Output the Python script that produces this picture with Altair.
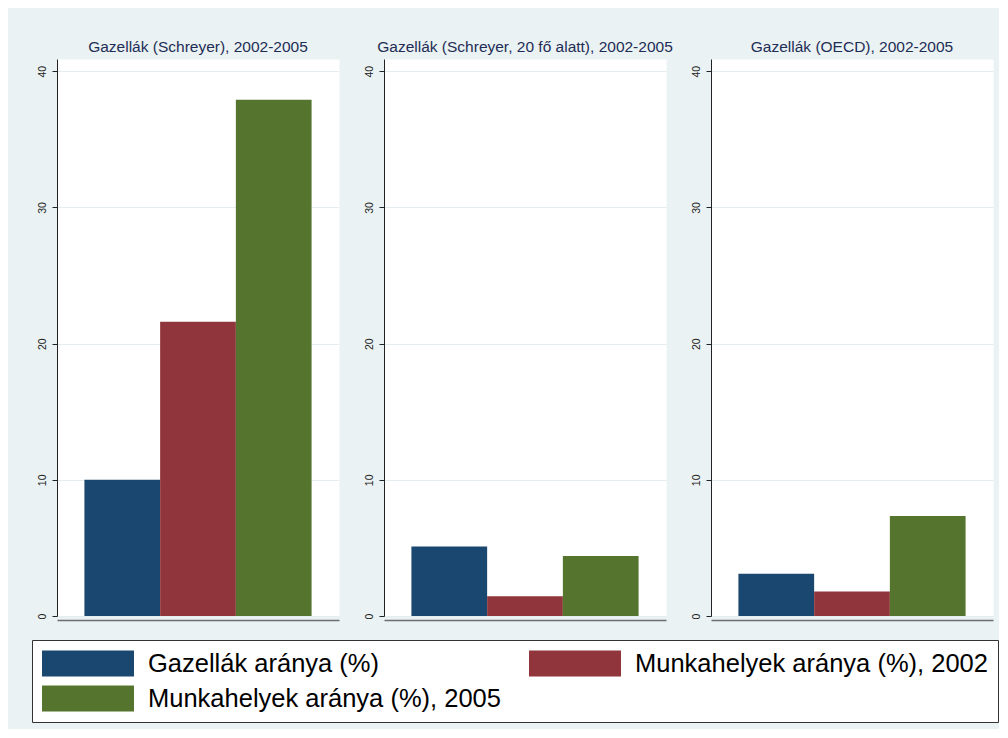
import altair as alt
import pandas as pd

panels = ["Gazellák (Schreyer), 2002-2005",
          "Gazellák (Schreyer, 20 fő alatt), 2002-2005",
          "Gazellák (OECD), 2002-2005"]
series = ["Gazellák aránya (%)",
          "Munkahelyek aránya (%), 2002",
          "Munkahelyek aránya (%), 2005"]
gazellak_aranya = [10.0, 5.1, 3.1]
munkahelyek_2002 = [21.6, 1.45, 1.8]
munkahelyek_2005 = [37.9, 4.4, 7.35]
colors = ["#1a476f", "#90353b", "#55752f"]
y_ticks = [0, 10, 20, 30, 40]

rows = []
for i, p in enumerate(panels):
    for s, vals in zip(series, [gazellak_aranya, munkahelyek_2002, munkahelyek_2005]):
        rows.append({"panel": p, "series": s, "value": vals[i]})
df = pd.DataFrame(rows)

bars = alt.Chart(df).mark_bar(strokeWidth=0).encode(
    x=alt.X("series:N", sort=series,
            scale=alt.Scale(paddingInner=0, paddingOuter=0.362),
            axis=alt.Axis(title=None, labels=False, ticks=False, domain=True,
                          domainColor="#6e6e6e", domainWidth=1.5, grid=False)),
    y=alt.Y("value:Q",
            scale=alt.Scale(domain=[0, 40.9], nice=False, zero=True),
            axis=alt.Axis(values=y_ticks, title=None, labelAngle=270,
                          labelAlign="center", labelBaseline="bottom",
                          labelFont="Liberation Sans", labelFontSize=10.5,
                          labelColor="#222", labelPadding=5,
                          tickSize=5, tickColor="#222", domainColor="#222",
                          grid=True, gridColor="#e4eef0", gridWidth=1)),
    color=alt.Color("series:N", sort=series,
                    scale=alt.Scale(domain=series, range=colors),
                    legend=alt.Legend(title=None, orient="none",
                                      direction="horizontal",
                                      legendX=-25, legendY=581,
                                      columns=2,
                                      symbolType="M-1,-0.28H1V0.28H-1Z",
                                      symbolSize=8464, clipHeight=27,
                                      symbolStrokeWidth=0, symbolOpacity=1,
                                      labelFont="Liberation Sans",
                                      labelFontSize=25.5, labelColor="black",
                                      labelOffset=14, labelLimit=600,
                                      columnPadding=28, rowPadding=8,
                                      strokeColor="#333", fillColor="white",
                                      padding=10)),
).properties(width=282, height=557)

chart = bars.facet(
    column=alt.Column("panel:N", sort=panels,
                      header=alt.Header(title=None, labelFont="Liberation Sans",
                                        labelFontSize=15.5, labelColor="#1f2d56",
                                        labelPadding=3)),
    spacing=23,
).resolve_axis(y="independent").properties(
    padding={"left": 23, "top": 31, "right": 0, "bottom": 6},
).configure(background="#eaf2f3").configure_view(fill="white", stroke="transparent")

chart.save("out.html", embed_options={"renderer": "svg", "actions": False})
